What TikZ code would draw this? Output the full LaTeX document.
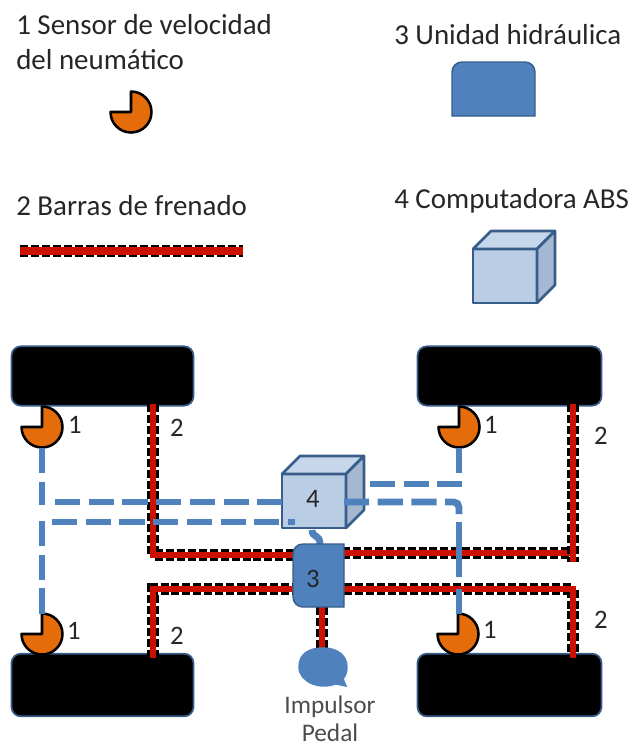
\documentclass[tikz,border=0pt]{standalone}
\usepackage{fontspec}
\setmainfont{Carlito}
\definecolor{txt}{HTML}{262626}
\definecolor{hydfill}{HTML}{4F81BD}
\definecolor{hydline}{HTML}{385D8A}
\definecolor{cubefill}{HTML}{B9CDE5}
\definecolor{cubetop}{HTML}{C7D7EB}
\definecolor{cubeside}{HTML}{A5B8D2}
\definecolor{senfill}{HTML}{E46C0A}
\definecolor{brakered}{HTML}{CC1100}
\tikzset{
  x=0.75pt,y=-0.75pt,
  lbl/.style={font=\fontsize{21.7pt}{26pt}\selectfont,text=txt,inner sep=0,align=left},
  num/.style={font=\fontsize{20pt}{22pt}\selectfont,text=txt,inner sep=0},
  smalltxt/.style={font=\fontsize{19pt}{20pt}\selectfont,text=black!70,inner sep=0},
  wheel/.style={fill=black,draw=hydline,line width=1.3pt,rounded corners=7pt,inner sep=0},
  brakebar/.style={preaction={draw=black,line width=9.4pt,dash pattern=on 6pt off 2.2pt},draw=brakered,line width=5.2pt},
  sigline/.style={draw=hydfill,line width=5.2pt,dash pattern=on 18.8pt off 6.5pt},
  plainsig/.style={draw=hydfill,line width=5.2pt},
  unitbody/.style={fill=hydfill,draw=hydline,line width=1.1pt},
  cubeline/.style={draw=hydline,line width=1.9pt,line join=round},
  sensor/.pic={
    \draw[fill=senfill,draw=black,line width=1.9pt,line join=round]
      (0,-20.5) arc[start angle=-90,end angle=180,radius=20.5] -- (0,0) -- cycle;
  },
  cube/.pic={
    \fill[cubefill] (-32,-27) rectangle (32,27);
    \draw[cubeline,fill=cubetop] (-32,-27) -- (-14,-45) -- (50,-45) -- (32,-27) -- cycle;
    \draw[cubeline,fill=cubeside] (32,-27) -- (50,-45) -- (50,9) -- (32,27) -- cycle;
    \draw[cubeline] (-32,-27) rectangle (32,27);
  }
}
\begin{document}
\begin{tikzpicture}
\useasboundingbox (0,0) rectangle (630,747);
% legend
\node[lbl,anchor=west] (t1) at (16,25) {1 Sensor de velocidad};
\node[lbl,anchor=west] (t1b) at (16,60) {del neumático};
\node[lbl,anchor=west] (t2) at (16,206) {2 Barras de frenado};
\node[lbl,anchor=west] (t3) at (394,35) {3 Unidad hidráulica};
\node[lbl,anchor=west] (t4) at (394,201) {4 Computadora ABS};
\pic (ls) at (131,112) {sensor};
\coordinate (la) at (20,251);
\coordinate (lb) at (243,251);
\draw[brakebar,line width=6pt] (la) -- (lb);
\draw[unitbody] (452,116) -- (452,72) arc[start angle=-180,end angle=-90,radius=10] -- (525,62) arc[start angle=-90,end angle=0,radius=10] -- (535,116) -- cycle;
\pic (lc) at (505,276) {cube};
% wheels
\node[wheel,minimum width=136.5pt,minimum height=44.5pt] (wtl) at (102.5,376) {};
\node[wheel,minimum width=138pt,minimum height=44.5pt] (wtr) at (509.5,376) {};
\node[wheel,minimum width=136.5pt,minimum height=47pt] (wbl) at (102.5,685) {};
\node[wheel,minimum width=138pt,minimum height=47pt] (wbr) at (509.5,685) {};
% sensors
\pic (stl) at (42,427) {sensor};
\pic (str) at (459,427) {sensor};
\pic (sbl) at (42,634) {sensor};
\pic (sbr) at (458,634) {sensor};
% junction coordinates
\coordinate (a1) at (153,404);
\coordinate (a2) at (153,555);
\coordinate (a3) at (294,555);
\coordinate (b1) at (573,404);
\coordinate (b2) at (573,562);
\coordinate (b3) at (342,553);
\coordinate (b4) at (573,553);
\coordinate (c1) at (153,658);
\coordinate (c2) at (153,589);
\coordinate (c3) at (294,589);
\coordinate (d1) at (573,658);
\coordinate (d2) at (573,589);
\coordinate (d3) at (344,589);
\coordinate (e1) at (322,607);
\coordinate (e2) at (322,650);
% brake bars
\draw[brakebar] (a1) -- (a2) -- (a3);
\draw[brakebar] (c1) -- (c2) -- (c3);
\draw[brakebar] (d3) -- (d2) -- (d1);
\draw[brakebar] (b3) -- (b4);
\draw[brakebar] (b1) -- (b2);
\draw[brakebar] (e1) -- (e2);
% computer and hydraulic unit
\pic (cb) at (314,501) {cube};
\node[num] (n4) at (313,499) {4};
\coordinate (k1) at (312,530);
\coordinate (k2) at (320,544);
\draw[plainsig] (k1) .. controls (312,538) and (320,534) .. (k2);
\draw[unitbody] (344,544) -- (303,544) arc[start angle=-90,end angle=-180,radius=10] -- (293,597) arc[start angle=180,end angle=90,radius=10] -- (344,607) -- cycle;
\node[num] (n3) at (313,579) {3};
% left signal lines
\coordinate (s1) at (42,448);
\coordinate (s2) at (42,505);
\coordinate (s3) at (55,502);
\coordinate (s4) at (52,522);
\coordinate (s5) at (42,521);
\coordinate (s6) at (42,615);
\coordinate (s7) at (282,502);
\coordinate (s8) at (295,522);
\draw[sigline] (s1) -- (s2);
\draw[sigline] (s3) -- (s7);
\draw[sigline] (s4) -- (s8);
\draw[sigline] (s5) -- (s6);
% right signal lines
\coordinate (r1) at (459,448);
\coordinate (r2) at (459,473);
\coordinate (r3) at (370,484);
\coordinate (r4) at (462,484);
\coordinate (r5) at (344,502);
\coordinate (r6) at (459,502);
\coordinate (r7) at (459,514);
\coordinate (r8) at (459,522);
\coordinate (r9) at (459,577);
\coordinate (r10) at (459,589);
\coordinate (r11) at (459,614);
\draw[plainsig] (r1) -- (r2);
\draw[sigline] (r3) -- (r4);
\draw[sigline,rounded corners=4pt] (r5) -- (r6) -- (r7);
\draw[plainsig] (r8) -- (r9);
\draw[plainsig] (r10) -- (r11);
% pedal
\draw[unitbody,draw=hydfill] (346,686) .. controls (340,685) and (338,684) .. (335,684)
  .. controls (320,690) and (299,682) .. (299,667)
  .. controls (299,653) and (310,648) .. (323,648)
  .. controls (338,648) and (347,656) .. (347,667)
  .. controls (347,673) and (345,676) .. (343,679) -- cycle;
\node[smalltxt] (p1) at (330,707) {Impulsor};
\node[smalltxt] (p2) at (330,733) {Pedal};
% numbers
\node[num] at (75,425) {1};
\node[num] at (491,425) {1};
\node[num] at (74,631) {1};
\node[num] at (490,630) {1};
\node[num] at (177,428) {2};
\node[num] at (601,436) {2};
\node[num] at (177,636) {2};
\node[num] at (601,620) {2};
\end{tikzpicture}
\end{document}
